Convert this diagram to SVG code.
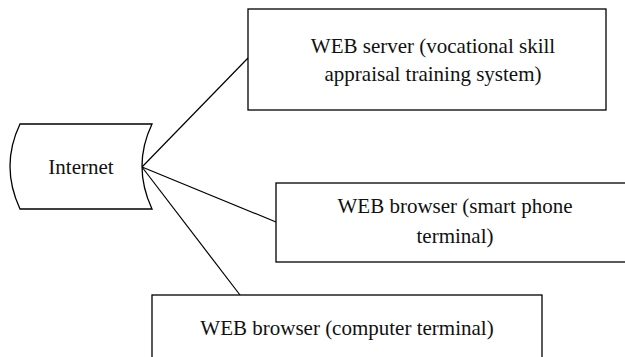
<svg xmlns="http://www.w3.org/2000/svg" width="625" height="357" viewBox="0 0 625 357">
<style>
.box{fill:#fff;stroke:#000;stroke-width:1.3}
.ln{stroke:#000;stroke-width:1.2;fill:none}
.t{font-family:"Times New Roman","Liberation Serif","DejaVu Serif",serif;font-size:21px;fill:#111;text-anchor:middle}
</style>
<rect width="625" height="357" fill="#fff"/>
<g id="connectors">
<line class="ln" x1="142" y1="167" x2="248" y2="58"/>
<line class="ln" x1="142" y1="167" x2="276" y2="222"/>
<line class="ln" x1="142" y1="167" x2="240" y2="295"/>
</g>
<g id="internet">
<path class="box" d="M20,124 L152,124 Q132,166 152,209 L20,209 Q0,166 20,124 Z"/>
<text class="t" x="81" y="174">Internet</text>
</g>
<g id="server">
<rect class="box" x="248" y="9" width="358" height="101"/>
<text class="t" x="433" y="53">WEB server (vocational skill</text>
<text class="t" x="433" y="81">appraisal training system)</text>
</g>
<g id="phone">
<rect class="box" x="276" y="183" width="360" height="79"/>
<text class="t" x="455" y="213">WEB browser (smart phone</text>
<text class="t" x="455" y="243">terminal)</text>
</g>
<g id="computer">
<rect class="box" x="152" y="295" width="390" height="70"/>
<text class="t" x="347" y="335">WEB browser (computer terminal)</text>
</g>
</svg>
